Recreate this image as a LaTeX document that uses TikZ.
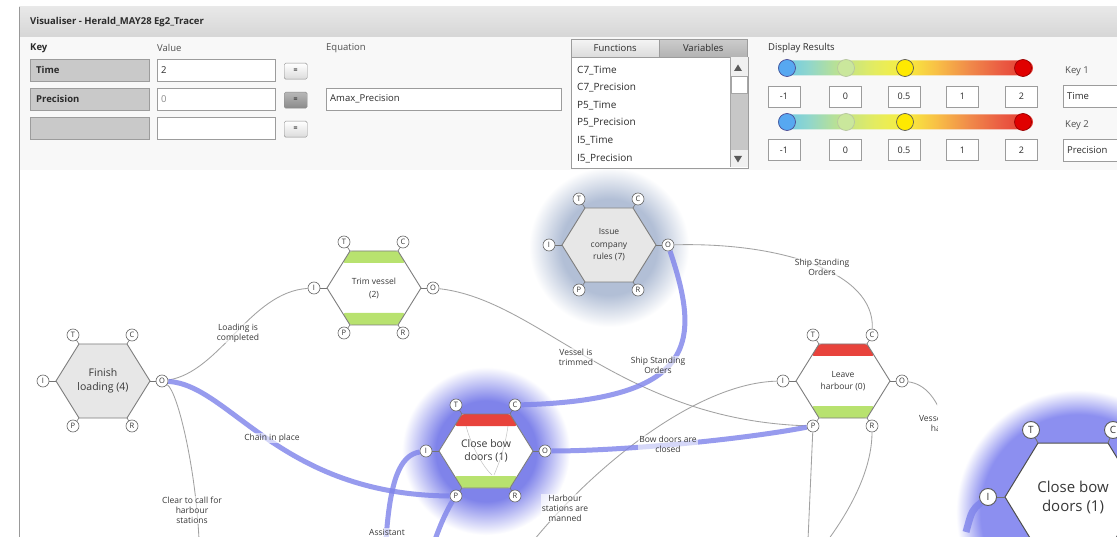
\documentclass[tikz,border=0pt]{standalone}
\usepackage{fontspec}
\setmainfont{Open Sans}
\usetikzlibrary{calc}

% ---------- palette ----------
\definecolor{titletop}{HTML}{E8E8E8}
\definecolor{titlebot}{HTML}{D6D6D6}
\definecolor{panelbg}{HTML}{F8F8F8}
\definecolor{frame}{HTML}{9C9C9C}
\definecolor{keyfill}{HTML}{C9C9C9}
\definecolor{ink}{HTML}{2B2B2B}
\definecolor{inkmid}{HTML}{505050}
\definecolor{inklight}{HTML}{8A8A8A}
\definecolor{edge}{HTML}{A2A2A2}
\definecolor{hexrim}{HTML}{7E7E7E}
\definecolor{hexgrey}{HTML}{E7E7E7}
\definecolor{barred}{HTML}{E8433C}
\definecolor{bargreen}{HTML}{B8E26F}
\definecolor{flow}{HTML}{7D82EA}
\definecolor{glowV}{HTML}{7F83EA}
\definecolor{glowS}{HTML}{B2BFD6}
\definecolor{glowI}{HTML}{8C8FF0}
\definecolor{heatA}{HTML}{66C6EE}
\definecolor{heatB}{HTML}{90D6CC}
\definecolor{heatC}{HTML}{C1E38A}
\definecolor{heatD}{HTML}{E4EC60}
\definecolor{heatE}{HTML}{F8EE3E}
\definecolor{heatF}{HTML}{F8C046}
\definecolor{heatG}{HTML}{F08A4A}
\definecolor{heatH}{HTML}{EA5A42}
\definecolor{heatI}{HTML}{E5372F}

% ---------- shadings ----------
\pgfdeclarehorizontalshading{heatbar}{100bp}{color(0bp)=(heatA); color(25bp)=(heatA); color(31bp)=(heatB); color(37.5bp)=(heatC); color(44bp)=(heatD); color(50bp)=(heatE); color(56bp)=(heatF); color(62.5bp)=(heatG); color(69bp)=(heatH); color(75bp)=(heatI); color(100bp)=(heatI)}
\pgfdeclareradialshading{glowviolet}{\pgfpoint{0bp}{0bp}}{color(0bp)=(glowV); color(15bp)=(glowV); color(25bp)=(white); color(50bp)=(white)}
\pgfdeclareradialshading{glowslate}{\pgfpoint{0bp}{0bp}}{color(0bp)=(glowS); color(15bp)=(glowS); color(25bp)=(white); color(50bp)=(white)}
\pgfdeclareradialshading{glowzoom}{\pgfpoint{0bp}{0bp}}{color(0bp)=(glowI); color(20bp)=(glowI); color(25bp)=(white); color(50bp)=(white)}

\tikzset{
  ui/.style={inner sep=0pt, text=ink, font=\fontsize{9.5}{11}\selectfont},
  keycell/.style={draw=frame, fill=keyfill, anchor=north west, minimum height=22pt, text width=107pt, inner xsep=6pt, inner ysep=0pt, align=left, font=\bfseries\fontsize{9.5}{11}\selectfont, text=ink},
  valcell/.style={draw=frame, fill=white, anchor=north west, minimum height=22pt, text width=110pt, inner xsep=4pt, inner ysep=0pt, align=left, font=\fontsize{9.5}{11}\selectfont, text=ink},
  eqcell/.style={valcell, text width=227pt},
  eqbutton/.style={draw=black!45, rounded corners=1.5pt, top color=white, bottom color=black!14, anchor=north west, minimum width=23pt, minimum height=16pt, inner sep=0pt, font=\bfseries\fontsize{7}{7}\selectfont, text=ink},
  eqpressed/.style={eqbutton, top color=black!28, bottom color=black!46},
  tab/.style={draw=frame, anchor=north west, minimum width=88pt, minimum height=18pt, inner sep=0pt, font=\fontsize{9.5}{11}\selectfont, text=ink},
  listitem/.style={anchor=west, inner sep=0pt, font=\fontsize{10}{11}\selectfont, text=ink},
  numcell/.style={draw=frame, fill=white, minimum width=32pt, minimum height=21pt, inner sep=0pt, font=\fontsize{9}{10}\selectfont, text=ink},
  knob/.style={circle, minimum size=17pt, inner sep=0pt, line width=0.7pt},
  port/.style={circle, draw=black!60, fill=white, minimum size=12pt, inner sep=0pt, line width=0.6pt, font=\fontsize{7.5}{7.5}\selectfont, text=black!80},
  bigport/.style={port, minimum size=17pt, line width=0.9pt, draw=black!65, font=\fontsize{10}{10}\selectfont},
  stub/.style={draw=black!55, line width=0.6pt},
  hexrimline/.style={draw=hexrim, line width=0.9pt},
  hexcap/.style={align=center, inner sep=0pt, text=black!78},
  edgegrey/.style={draw=edge, line width=0.85pt},
  edgeblue/.style={draw=flow, line width=5pt, draw opacity=0.8},
  flowlabel/.style={align=center, inner sep=1pt, fill=white, fill opacity=0.6, text opacity=1, text=black!78, font=\fontsize{8.5}{10}\selectfont},
}

% hexagonal task with its six ports
% #1 name, #2 x, #3 y, #4 body colour, #5 upper band, #6 lower band, #7 font, #8 caption
\newcommand\hexunit[8]{%
  \path[fill=#4] ({#2-47},#3) -- ({#2-24},{#3-37}) -- ({#2+24},{#3-37}) -- ({#2+47},#3) -- ({#2+24},{#3+37}) -- ({#2-24},{#3+37}) -- cycle;
  \path[fill=#5, rounded corners=2.5pt] ({#2-24},{#3-37}) -- ({#2+24},{#3-37}) -- ({#2+31.5},{#3-25}) -- ({#2-31.5},{#3-25}) -- cycle;
  \path[fill=#6, rounded corners=2.5pt] ({#2-31.5},{#3+25}) -- ({#2+31.5},{#3+25}) -- ({#2+24},{#3+37}) -- ({#2-24},{#3+37}) -- cycle;
  \path[hexrimline] ({#2-47},#3) -- ({#2-24},{#3-37}) -- ({#2+24},{#3-37}) -- ({#2+47},#3) -- ({#2+24},{#3+37}) -- ({#2-24},{#3+37}) -- cycle;
  \node[hexcap, font=#7] (#1) at (#2,#3) {#8};
  \node[port] (#1-T) at ({#2-30},{#3-46}) {T};
  \node[port] (#1-C) at ({#2+29},{#3-46}) {C};
  \node[port] (#1-I) at ({#2-60},#3) {I};
  \node[port] (#1-O) at ({#2+59},#3) {O};
  \node[port] (#1-P) at ({#2-30},{#3+45}) {P};
  \node[port] (#1-R) at ({#2+29},{#3+45}) {R};
  \draw[stub] ({#2-24},{#3-37}) -- (#1-T);
  \draw[stub] ({#2+24},{#3-37}) -- (#1-C);
  \draw[stub] ({#2-47},#3) -- (#1-I);
  \draw[stub] ({#2+47},#3) -- (#1-O);
  \draw[stub] ({#2-24},{#3+37}) -- (#1-P);
  \draw[stub] ({#2+24},{#3+37}) -- (#1-R);
}

\begin{document}
\begin{tikzpicture}[x=1pt, y=-1pt]
\useasboundingbox (0,0) rectangle (1117,537);
\clip (0,0) rectangle (1117,537);
\fill[white] (0,0) rectangle (1117,537);

% ---------- window title and control panel ----------
\shade[top color=titletop, bottom color=titlebot] (19,7) rectangle (1117,37);
\draw[black!25] (19,37) -- (1117,37);
\node[ui, anchor=west, font=\bfseries\fontsize{9.5}{11}\selectfont] (title) at (30,22) {Visualiser - Herald\_MAY28 Eg2\_Tracer};
\fill[panelbg] (19.5,37.5) rectangle (1117,170);

\node[ui, anchor=west, font=\bfseries\fontsize{9.5}{11}\selectfont] (hkey) at (30,48) {Key};
\node[ui, anchor=west, text=inkmid] (hval) at (157,48) {Value};
\node[ui, anchor=west, text=inkmid] (heq) at (326,48) {Equation};

\node[keycell] (k1) at (30,59) {Time};
\node[valcell] (v1) at (157,59) {2};
\node[eqbutton] (b1) at (284,63) {=};

\node[keycell] (k2) at (30,88) {Precision};
\node[valcell, text=inklight] (v2) at (157,88) {0};
\node[eqpressed] (b2) at (284,92) {=};
\node[eqcell] (e2) at (326,88) {Amax\_Precision};

\node[keycell] (k3) at (30,117) {};
\node[valcell] (v3) at (157,117) {};
\node[eqbutton] (b3) at (284,121) {=};

% functions / variables list
\node[tab, top color=black!4, bottom color=black!14] (tabf) at (571,39) {Functions};
\node[tab, top color=black!20, bottom color=black!30] (tabv) at (659,39) {Variables};
\node[draw=frame, fill=white, anchor=north west, minimum width=177pt, minimum height=111pt, inner sep=0pt] (varlist) at (571,57) {};
\node[listitem] (it1) at (577,71) {C7\_Time};
\node[listitem] (it2) at (577,88) {C7\_Precision};
\node[listitem] (it3) at (577,106) {P5\_Time};
\node[listitem] (it4) at (577,123) {P5\_Precision};
\node[listitem] (it5) at (577,141) {I5\_Time};
\node[listitem] (it6) at (577,159) {I5\_Precision};
% scroll bar
\fill[black!6] (730,57.5) rectangle (747.5,167.5);
\fill[black!22] (730,93) rectangle (747.5,150);
\draw[black!35] (730,57.5) -- (730,167.5);
\draw[black!35, fill=white] (731,76) rectangle (747,93);
\fill[black!65] (734,71) -- (742,71) -- (738,64.5) -- cycle;
\fill[black!65] (734,156) -- (742,156) -- (738,162.5) -- cycle;

% display results
\node[ui, anchor=west] (disp) at (768,48) {Display Results};
\foreach \row/\yb/\yn in {a/68/96.5, b/122/150} {
  \shade[shading=heatbar, rounded corners=7.5pt] (778,{\yb-7.5}) rectangle (1033,{\yb+7.5});
  \node[knob, fill=heatA!85!blue, draw=blue!40!black!70] (knob1\row) at (787,\yb) {};
  \node[knob, fill=heatC!85!white, draw=heatC!70!black!60] (knob2\row) at (846,\yb) {};
  \node[knob, fill=yellow!92!orange, draw=black!65] (knob3\row) at (905,\yb) {};
  \node[knob, fill=red!88!black, draw=red!60!black] (knob4\row) at (1023,\yb) {};
  \node[numcell] (num1\row) at (784,\yn) {-1};
  \node[numcell] (num2\row) at (845.5,\yn) {0};
  \node[numcell] (num3\row) at (904,\yn) {0.5};
  \node[numcell] (num4\row) at (962.5,\yn) {1};
  \node[numcell] (num5\row) at (1021.5,\yn) {2};
}
\node[ui, anchor=west, text=inkmid] (key1) at (1065,71) {Key 1};
\node[valcell, text width=62pt] (key1val) at (1063,85) {Time};
\node[ui, anchor=west, text=inkmid] (key2) at (1065,125) {Key 2};
\node[valcell, text width=62pt] (key2val) at (1063,139) {Precision};

% ---------- process graph ----------
\begin{scope}
\clip (19,170) rectangle (937,537);
\shade[shading=glowslate] (609,247) circle [radius=80];
\shade[shading=glowviolet] (486,451) circle [radius=84];

\hexunit{finish}{103}{381}{hexgrey}{none}{none}{\fontsize{10.5}{14}\selectfont}{Finish\\loading (4)}
\hexunit{trim}{374}{288}{white}{bargreen}{bargreen}{\fontsize{8.5}{13}\selectfont}{Trim vessel\\(2)}
\hexunit{issue}{609}{245}{hexgrey}{none}{none}{\fontsize{8.5}{12.5}\selectfont}{Issue\\company\\rules (7)}
\hexunit{leave}{843}{381}{white}{barred}{bargreen}{\fontsize{8.5}{12}\selectfont}{Leave\\harbour (0)}
\hexunit{close}{486}{451}{white}{barred}{bargreen}{\fontsize{10.5}{13}\selectfont}{Close bow\\doors (1)}

% faint links seen through the selected task
\draw[black!40, line width=0.5pt, opacity=0.6] (466,426) .. controls (472,448) and (484,468) .. (492,475);
\draw[black!40, line width=0.5pt, opacity=0.6] (508,426) .. controls (505,448) and (498,466) .. (494,475);

% free ends of links leaving the view
\coordinate (outClear) at (199,540);
\coordinate (outManned) at (534,540);
\coordinate (outLeaveP) at (808,540);
\coordinate (outLeaveR) at (828,540);
\coordinate (outLeaveO) at (947,430);
\coordinate (inAssist) at (386,540);
\coordinate (outCloseP) at (435,540);

% grey links
\draw[edgegrey] (finish-O) .. controls (220,372) and (250,292) .. (trim-I);
\draw[edgegrey] (finish-O) .. controls (178,392) and (196,470) .. (outClear);
\draw[edgegrey] (trim-O) .. controls (540,300) and (620,420) .. (leave-P);
\draw[edgegrey] (issue-O) .. controls (780,242) and (875,272) .. (leave-C);
\draw[edgegrey] (leave-I) .. controls (700,383) and (600,460) .. (outManned);
\draw[edgegrey] (leave-P) -- (outLeaveP);
\draw[edgegrey] (leave-R) .. controls (872,470) and (850,510) .. (outLeaveR);
\draw[edgegrey] (leave-O) .. controls (925,384) and (938,398) .. (outLeaveO);

% traced links
\draw[edgeblue] (finish-O) .. controls (230,385) and (280,495) .. (close-P);
\draw[edgeblue] (issue-O) .. controls (700,340) and (700,400) .. (close-C);
\draw[edgeblue] (close-O) .. controls (620,451) and (740,440) .. (leave-P);
\draw[edgeblue] (inAssist) .. controls (390,480) and (400,455) .. (close-I);
\draw[edgeblue] (close-P) .. controls (448,508) and (440,525) .. (outCloseP);

% link labels
\node[flowlabel] (lblLoading) at (238,333) {Loading is\\completed};
\node[flowlabel] (lblChain) at (272,438) {Chain in place};
\node[flowlabel] (lblClear) at (192,510) {Clear to call for\\harbour\\stations};
\node[flowlabel] (lblTrimmed) at (576,357) {Vessel is\\trimmed};
\node[flowlabel] (lblOrdersA) at (822,267) {Ship Standing\\Orders};
\node[flowlabel] (lblOrdersB) at (658,365) {Ship Standing\\Orders};
\node[flowlabel] (lblBow) at (668,444) {Bow doors are\\closed};
\node[flowlabel] (lblManned) at (565,508) {Harbour\\stations are\\manned};
\node[flowlabel] (lblLeft) at (947,423) {Vessel has left\\harbour};
\node[flowlabel] (lblAssist) at (387,532.5) {Assistant};
\end{scope}

% ---------- magnified view of the selected task ----------
\begin{scope}
\clip (940,170) rectangle (1117,537);
\shade[shading=glowzoom] (1078,512) circle [radius=122];
\path[fill=white] (1005,497) -- (1038,443) -- (1108,443) -- (1141,497) -- (1108,551) -- (1038,551) -- cycle;
\node[bigport] (zoom-T) at (1031,430) {T};
\node[bigport] (zoom-C) at (1113,430) {C};
\node[bigport] (zoom-I) at (988,497) {I};
\coordinate (inZoom) at (966,532);
\draw[edgeblue, line width=7pt] (inZoom) .. controls (972,510) .. (zoom-I);
\path[draw=black!70, line width=1pt] (1005,497) -- (1038,443) -- (1108,443) -- (1141,497) -- (1108,551) -- (1038,551) -- cycle;
\draw[stub, line width=0.9pt] (1038,443) -- (zoom-T);
\draw[stub, line width=0.9pt] (1108,443) -- (zoom-C);
\draw[stub, line width=0.9pt] (1005,497) -- (zoom-I);
\node[hexcap, font=\fontsize{15}{19}\selectfont] (zoomcap) at (1073,497) {Close bow\\doors (1)};
\end{scope}

% window frame
\draw[black!40, line width=0.8pt] (19,7) -- (19,537);
\end{tikzpicture}
\end{document}
